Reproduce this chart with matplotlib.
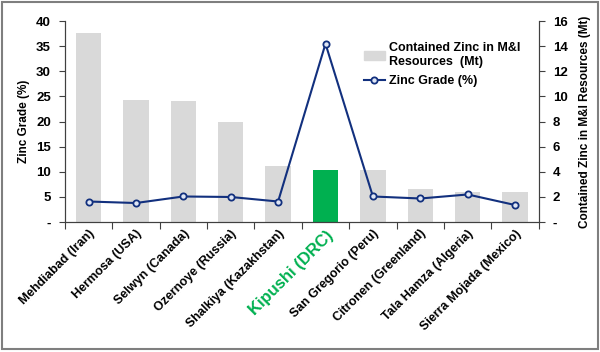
import matplotlib.pyplot as plt
import numpy as np
from matplotlib.ticker import FuncFormatter, MultipleLocator, FixedLocator
from matplotlib.patches import Rectangle

plt.rcParams['font.family'] = ['Liberation Sans', 'DejaVu Sans']
plt.rcParams['font.weight'] = 'bold'

mines = ['Mehdiabad (Iran)', 'Hermosa (USA)', 'Selwyn (Canada)', 'Ozernoye (Russia)',
         'Shalkiya (Kazakhstan)', 'Kipushi (DRC)', 'San Gregorio (Peru)',
         'Citronen (Greenland)', 'Tala Hamza (Algeria)', 'Sierra Mojada (Mexico)']
contained_zinc = [15.05, 9.7, 9.65, 8.0, 4.5, 4.15, 4.15, 2.62, 2.42, 2.42]  # Mt
zinc_grade = [4.1, 3.8, 5.1, 5.0, 4.1, 35.5, 5.1, 4.7, 5.5, 3.4]  # %
highlight = 'Kipushi (DRC)'

grey = '#d9d9d9'
green = '#00b050'
navy = '#12307e'

fig = plt.figure(figsize=(6, 3.52), dpi=100)
ax1 = fig.add_axes([0.108, 0.369, 0.79, 0.571])
ax2 = ax1.twinx()

x = np.arange(len(mines))
colors = [green if m == highlight else grey for m in mines]
bars = ax2.bar(x, contained_zinc, width=0.54, color=colors, zorder=1)
line, = ax1.plot(x, zinc_grade, color=navy, lw=1.5, marker='o', ms=4.5,
                 mfc='#dfe6f5', mec=navy, mew=1.3, zorder=3)

ax1.set_zorder(ax2.get_zorder() + 1)
ax1.patch.set_visible(False)

ax1.set_xlim(-0.5, len(mines) - 0.5)
ax1.set_ylim(0, 40)
ax2.set_ylim(0, 16)
ax1.yaxis.set_major_locator(MultipleLocator(5))
ax2.yaxis.set_major_locator(MultipleLocator(2))
dash = FuncFormatter(lambda v, p: '-' if v == 0 else f'{v:g}')
ax1.yaxis.set_major_formatter(dash)
ax2.yaxis.set_major_formatter(dash)

for a in (ax1, ax2):
    a.spines['top'].set_visible(False)
    for s in ('left', 'right', 'bottom'):
        a.spines[s].set_color('#404040')
        a.spines[s].set_linewidth(0.8)
    a.tick_params(axis='y', labelsize=9.5, length=4, width=0.8, color='#404040', pad=6)

# category labels, tick marks at boundaries
ax1.xaxis.set_major_locator(FixedLocator(x))
ax1.xaxis.set_minor_locator(FixedLocator(np.arange(-0.5, len(mines), 1)))
ax1.tick_params(axis='x', which='major', length=0, pad=4)
ax1.tick_params(axis='x', which='minor', length=5, width=0.8, color='#404040')
ax1.set_xticklabels(mines, rotation=45, ha='right', rotation_mode='anchor')
for lab in ax1.get_xticklabels():
    lab.set_fontweight('bold')
    if lab.get_text() == highlight:
        lab.set_color(green)
        lab.set_fontsize(12)
    else:
        lab.set_fontsize(9)

ax1.set_ylabel('Zinc Grade (%)', fontsize=8.5, fontweight='bold', labelpad=4)
ax2.set_ylabel('Contained Zinc in M&I Resources (Mt)', fontsize=8.5,
               fontweight='bold', labelpad=8)

bar_handle = Rectangle((0, 0), 1, 1, color=grey)
ax1.legend([bar_handle, line], ['Contained Zinc in M&I\nResources  (Mt)', 'Zinc Grade (%)'],
           loc='upper left', bbox_to_anchor=(0.62, 0.92), frameon=False,
           prop={'size': 9, 'weight': 'bold'}, handlelength=1.7, handletextpad=0.3,
           labelspacing=0.6, borderaxespad=0)

# outer frame
fig.patches.append(Rectangle((0.004, 0.008), 0.992, 0.985, transform=fig.transFigure,
                             fill=False, edgecolor='#7f7f7f', lw=1.5))

plt.savefig('out.png', dpi=100)
